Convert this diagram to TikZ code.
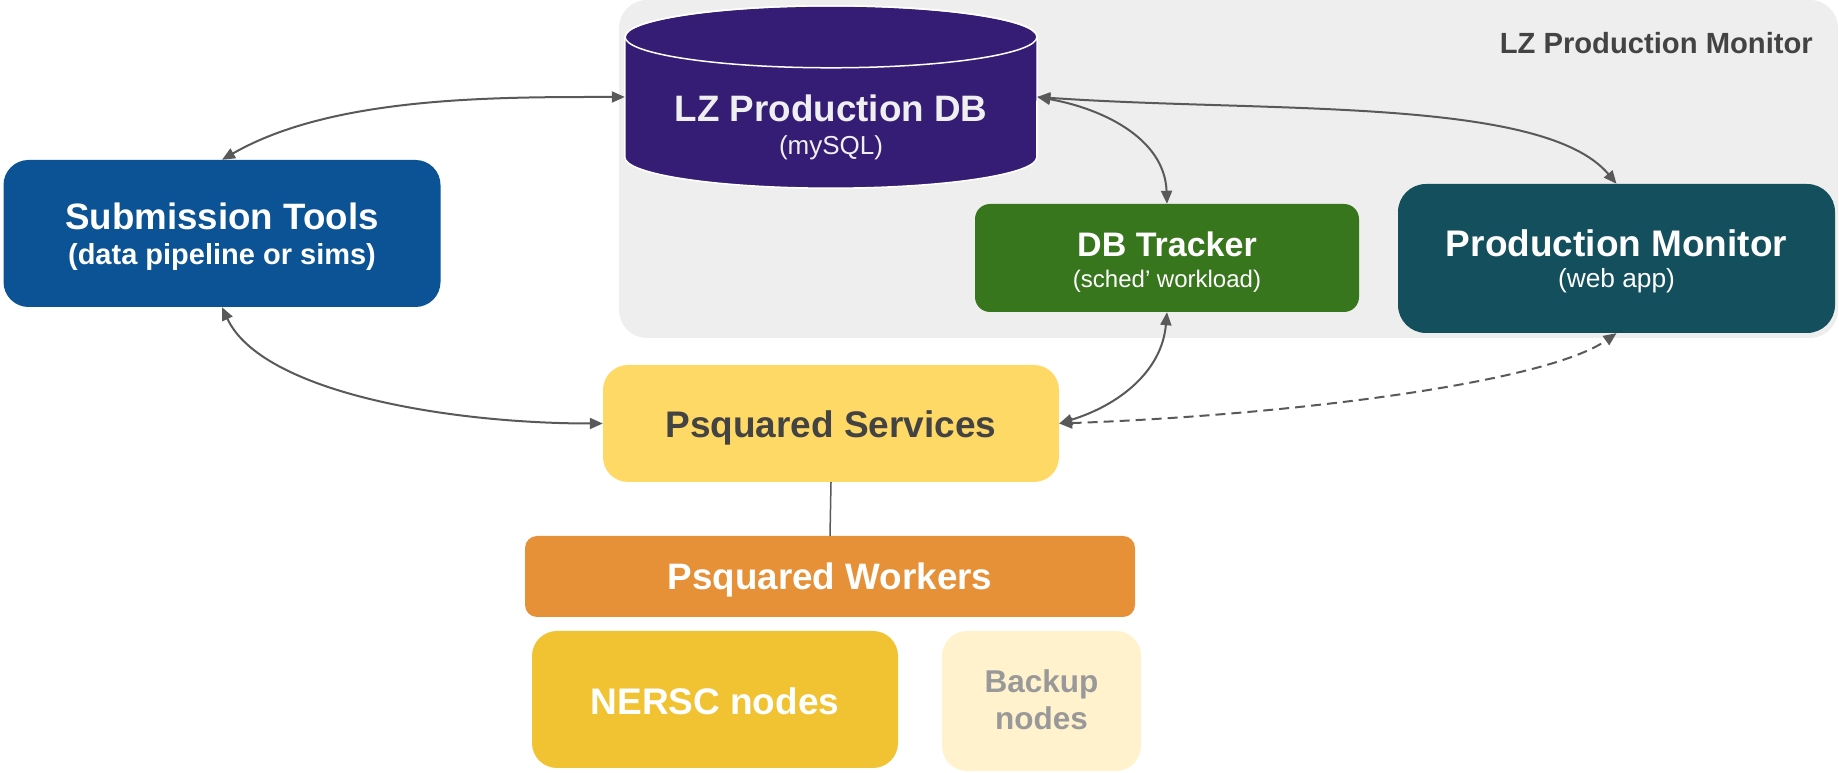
\documentclass[tikz,border=0pt]{standalone}
\usepackage{fontspec}
\setmainfont{Liberation Sans}
\usetikzlibrary{arrows.meta}

\definecolor{panelgray}{HTML}{EEEEEE}
\definecolor{dbpurple}{HTML}{351C75}
\definecolor{dbtext}{HTML}{EFEFEF}
\definecolor{subblue}{HTML}{0B5394}
\definecolor{trackgreen}{HTML}{38761D}
\definecolor{moncyan}{HTML}{134F5C}
\definecolor{svcyellow}{HTML}{FFD966}
\definecolor{wrkorange}{HTML}{E69138}
\definecolor{nerscyellow}{HTML}{F1C232}
\definecolor{backupyellow}{HTML}{FFF2CC}
\definecolor{backuptext}{HTML}{999999}
\definecolor{darktext}{HTML}{434343}
\definecolor{arrowgray}{HTML}{595959}

\newcommand{\fsize}[2]{\fontsize{#1}{#2}\selectfont}

\tikzset{
  box/.style={rounded corners=#1, inner sep=0pt, align=center, text=white, text depth=0pt},
  box/.default=25pt,
  conn/.style={draw=arrowgray, line width=2pt, {Triangle[length=13pt,width=11pt]}-{Triangle[length=13pt,width=11pt]}},
}

\begin{document}
\begin{tikzpicture}[x=1pt,y=1pt]
        \useasboundingbox (0,0) rectangle (1839,773);
        \fill[panelgray, rounded corners=28pt] (619,435) rectangle (1838,773);
        \node[anchor=base east, inner sep=0pt, text=darktext, font=\fsize{29.2}{30}\bfseries] (paneltitle) at (1813,719) {LZ Production Monitor};

        \node[minimum width=412pt, minimum height=182pt, inner sep=0pt] (db) at (831,676) {};
        \filldraw[fill=dbpurple, draw=white, line width=1.5pt] ([yshift=-31pt]db.north west) -- ([yshift=31pt]db.south west)
            arc[start angle=180, end angle=360, x radius=206pt, y radius=31pt]
            -- ([yshift=-31pt]db.north east)
            arc[start angle=0, end angle=180, x radius=206pt, y radius=31pt] -- cycle;
        \draw[white, line width=1.5pt] ([yshift=-31pt]db.north) ellipse [x radius=206pt, y radius=31pt];
        \node[inner sep=0pt, align=center, text=dbtext, text height=0pt, text depth=0pt, font=\fsize{26}{33}] (dbname) at (831,618) {{\fsize{36.8}{33}\bfseries LZ Production DB}\\(mySQL)};

        \node[box, fill=subblue, minimum width=437pt, minimum height=147pt, text height=63pt, font=\fsize{29}{35}\bfseries] (sub) at (222,539.5) {{\fsize{36.7}{35}Submission Tools}\\(data pipeline or sims)};
        \node[box=15pt, fill=trackgreen, minimum width=384pt, minimum height=108pt, text height=60pt, font=\fsize{24}{31}] (tracker) at (1167,515) {{\fsize{34}{31}\bfseries DB Tracker}\\(sched’ workload)};
        \node[box=28pt, fill=moncyan, minimum width=437pt, minimum height=149pt, text height=59pt, font=\fsize{26.3}{31}] (mon) at (1616.5,514.5) {{\fsize{37}{31}\bfseries Production Monitor}\\(web app)};
        \node[box, fill=svcyellow, text=darktext, minimum width=456pt, minimum height=117pt, text height=29pt, font=\fsize{37}{40}\bfseries] (svc) at (831,349.5) {Psquared Services};
        \node[box=12pt, fill=wrkorange, minimum width=610pt, minimum height=81pt, text height=27pt, font=\fsize{36.8}{40}\bfseries] (wrk) at (830,196.5) {Psquared Workers};
        \node[box, fill=nerscyellow, minimum width=366pt, minimum height=137pt, text height=31pt, font=\fsize{37}{40}\bfseries] (nersc) at (715,73.5) {NERSC nodes};
        \node[box, fill=backupyellow, text=backuptext, minimum width=199pt, minimum height=140pt, text height=58pt, font=\fsize{31.5}{37}\bfseries] (backup) at (1041.5,72) {Backup\\nodes};

        \draw[conn] (sub.north) to[out=30, in=180, looseness=0.8] (db.west);
        \draw[conn] (db.east) to[out=-10, in=92] (tracker.north);
        \draw[conn] (db.east) to[out=-4, in=130, in looseness=0.5] (mon.north);
        \draw[conn] (sub.south) to[out=-65, in=180, out looseness=0.6] (svc.west);
        \draw[conn] (tracker.south) to[out=-95, in=17] (svc.east);
        \draw[conn, dash pattern=on 10pt off 6pt] (svc.east) to[out=2, in=-145, in looseness=0.4] (mon.south);
        \draw[arrowgray, line width=1.5pt] (svc.south) -- (wrk.north);
    \end{tikzpicture}
\end{document}
